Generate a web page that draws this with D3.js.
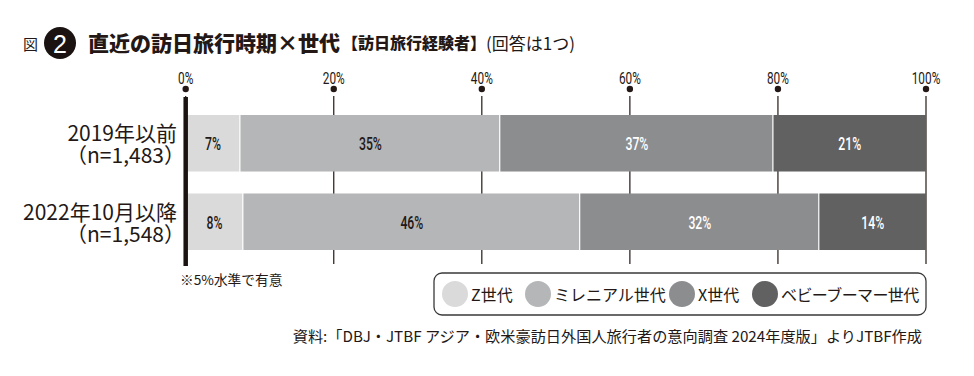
<!DOCTYPE html>
<html><head><meta charset="utf-8">
<script src="https://cdn.jsdelivr.net/npm/d3@7"></script>
<style>
html,body{margin:0;padding:0;background:#fff;}
svg{display:block;}
text{font-family:"Noto Sans CJK JP","Noto Sans",sans-serif;fill:#231815;}
.num{font-family:Roboto,"Liberation Sans",sans-serif;}
</style></head>
<body>
<svg id="chart" width="974" height="376"></svg>
<script>
const categories = ["2019年以前", "2022年10月以降"];
const sampleSizes = ["（n=1,483）", "（n=1,548）"];
const seriesNames = ["Z世代", "ミレニアル世代", "X世代", "ベビーブーマー世代"];
const genZ = [7.4, 7.8];
const millennial = [35.1, 45.5];
const genX = [36.9, 32.3];
const boomer = [20.6, 14.4];
const valueLabels = [["7%", "35%", "37%", "21%"], ["8%", "46%", "32%", "14%"]];
const tickValues = [0, 20, 40, 60, 80, 100];
const tickLabels = ["0%", "20%", "40%", "60%", "80%", "100%"];

const colors = ["#dadada", "#b5b6b7", "#8c8d8f", "#616161"];
const labelColors = ["#231815", "#231815", "#ffffff", "#ffffff"];

const svg = d3.select("#chart");
const x = d3.scaleLinear().domain([0, 100]).range([185.7, 926]);
const y = d3.scaleBand().domain(categories).range([115, 250]).paddingInner(0.28).paddingOuter(0);

// Title
svg.append("text").attr("x", 23).attr("y", 43).attr("dominant-baseline", "central")
  .attr("font-size", 15).text("図");
svg.append("circle").attr("cx", 60).attr("cy", 43).attr("r", 16).attr("fill", "#1a1311");
svg.append("text").attr("x", 60).attr("y", 44).attr("text-anchor", "middle").attr("dominant-baseline", "central")
  .attr("font-size", 25).style("fill", "#fff").style("font-family", "'Liberation Sans',sans-serif").text("2");
const title = svg.append("text").attr("x", 88).attr("y", 42).attr("dominant-baseline", "central");
title.append("tspan").attr("font-size", 21).attr("font-weight", 900).text("直近の訪日旅行時期×世代");
title.append("tspan").attr("font-size", 16).attr("font-weight", 900).attr("dx", 2).text("【訪日旅行経験者】");
title.append("tspan").attr("font-size", 17).attr("font-weight", 400).text("(回答は1つ)");

// grid ticks
const tickG = svg.append("g");
tickG.selectAll("line").data(tickValues).join("line")
  .attr("x1", d => x(d)).attr("x2", d => x(d)).attr("y1", 96).attr("y2", 264)
  .attr("stroke", "#231815").attr("stroke-width", 1.2);
tickG.selectAll("circle").data(tickValues).join("circle")
  .attr("cx", d => x(d)).attr("cy", 89).attr("r", 3.2).attr("fill", "#231815");
tickG.selectAll("text").data(tickValues).join("text")
  .attr("class", "num").attr("transform", d => `translate(${x(d)},83.5) scale(0.74,1)`)
  .attr("text-anchor", "middle").attr("font-size", 16).text((d, i) => tickLabels[i]);

// stacked data
const rows = categories.map((c, i) => ({cat: c, vals: [genZ[i], millennial[i], genX[i], boomer[i]]}));
rows.forEach((r, i) => {
  let acc = 0;
  const g = svg.append("g");
  r.vals.forEach((v, k) => {
    const x0 = x(acc), x1 = x(acc + v);
    g.append("rect").attr("x", x0).attr("y", y(r.cat)).attr("width", x1 - x0 - (k < 3 ? 1.2 : 0))
      .attr("height", y.bandwidth()).attr("fill", colors[k]);
    g.append("text").attr("class", "num")
      .attr("transform", `translate(${(x0 + x1) / 2},${y(r.cat) + y.bandwidth() / 2 + 1}) scale(0.68,1)`)
      .attr("text-anchor", "middle").attr("dominant-baseline", "central").attr("font-size", 18)
      .attr("font-weight", 500).style("fill", labelColors[k]).text(valueLabels[i][k]);
    acc += v;
  });
  // category labels (one text, two lines)
  const cy = y(r.cat) + y.bandwidth() / 2;
  const t = svg.append("text").attr("text-anchor", "end").attr("font-size", 21);
  t.append("tspan").attr("x", 177).attr("y", cy - 11).attr("dominant-baseline", "central").text(r.cat);
  t.append("tspan").attr("x", 185).attr("y", cy + 11).attr("dominant-baseline", "central").text(sampleSizes[i]);
});

// axis line
svg.append("line").attr("x1", x(0)).attr("x2", x(0)).attr("y1", 97).attr("y2", 266)
  .attr("stroke", "#1a1311").attr("stroke-width", 4.5);

// note
svg.append("text").attr("x", 180).attr("y", 279).attr("dominant-baseline", "central").attr("font-size", 13.7)
  .text("※5%水準で有意");

// legend
svg.append("rect").attr("x", 434).attr("y", 273).attr("width", 492).attr("height", 42).attr("rx", 8)
  .attr("fill", "none").attr("stroke", "#3a3a3a").attr("stroke-width", 1.3);
const legendX = [455, 538, 682, 765];
const lg = svg.append("g").selectAll("g").data(seriesNames).join("g")
  .attr("transform", (d, i) => `translate(${legendX[i]},294)`);
lg.append("circle").attr("r", 13).attr("fill", (d, i) => colors[i]);
lg.append("text").attr("x", 16).attr("y", 0).attr("dominant-baseline", "central").attr("font-size", 16)
  .attr("letter-spacing", (d, i) => i === 3 ? -0.6 : 0).text(d => d);

// source
svg.append("text").attr("x", 922).attr("y", 335).attr("text-anchor", "end").attr("dominant-baseline", "central")
  .attr("font-size", 15.2).text("資料:「DBJ・JTBF アジア・欧米豪訪日外国人旅行者の意向調査 2024年度版」よりJTBF作成");
</script>
</body></html>
